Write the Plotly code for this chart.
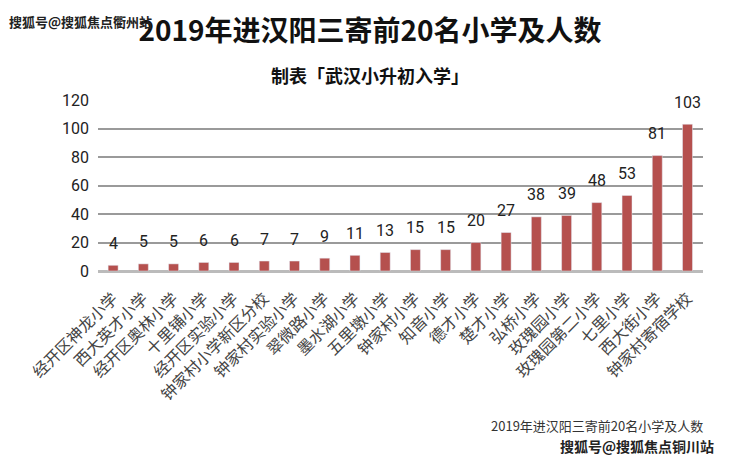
import plotly.graph_objects as go

# data
schools = ['经开区神龙小学', '西大英才小学', '经开区奥林小学', '十里铺小学', '经开区实验小学',
           '钟家村小学新区分校', '钟家村实验小学', '翠微路小学', '墨水湖小学', '五里墩小学',
           '钟家村小学', '知音小学', '德才小学', '楚才小学', '弘桥小学',
           '玫瑰园小学', '玫瑰园第二小学', '七里小学', '西大街小学', '钟家村寄宿学校']
counts = [4, 5, 5, 6, 6, 7, 7, 9, 11, 13, 15, 15, 20, 27, 38, 39, 48, 53, 81, 103]
y_ticks = [0, 20, 40, 60, 80, 100, 120]

cjk = 'Noto Sans CJK SC'

fig = go.Figure()
fig.add_trace(go.Bar(x=schools, y=counts, marker_color='#b5504e', width=0.33))

# value labels sit a little above each bar
for s, c in zip(schools, counts):
    fig.add_annotation(x=s, y=c, text=str(c), showarrow=False, yshift=22,
                       font=dict(family='Roboto', size=16, color='#222'))

# subtitle, footnote and watermarks
fig.add_annotation(x=0.45, y=1.234, xref='paper', yref='paper', text='<b>制表「武汉小升初入学」</b>',
                   showarrow=False, font=dict(family=cjk, size=18, color='#111'))
fig.add_annotation(x=1.003, y=-0.971, xref='paper', yref='paper', xanchor='right',
                   text='2019年进汉阳三寄前20名小学及人数', showarrow=False,
                   font=dict(family=cjk, size=13, color='#333'))
fig.add_annotation(x=1.021, y=-1.094, xref='paper', yref='paper', xanchor='right',
                   text='<b>搜狐号@搜狐焦点铜川站</b>', showarrow=False,
                   font=dict(family=cjk, size=14, color='#222'))
fig.add_annotation(x=-0.15, y=1.525, xref='paper', yref='paper', xanchor='left',
                   text='<b>搜狐号@搜狐焦点衢州站</b>', showarrow=False,
                   font=dict(family=cjk, size=13, color='#222'))

fig.update_layout(
    width=740, height=474,
    margin=dict(l=98, r=37, t=100, b=203, autoexpand=False),
    paper_bgcolor='white', plot_bgcolor='white',
    title=dict(text='<b>2019年进汉阳三寄前20名小学及人数</b>', x=0.5, xanchor='center',
               y=1 - 31 / 474, yanchor='middle', yref='container',
               font=dict(family=cjk, size=28, color='#111')),
    showlegend=False,
    bargap=0.67,
)
fig.update_xaxes(tickangle=-45, tickfont=dict(family=cjk, size=16, color='#444'),
                 showgrid=False, showline=False, ticks='', automargin=False,
                 ticklabelstandoff=14)
fig.update_yaxes(range=[0, 120], tickvals=y_ticks, ticktext=[str(v) for v in y_ticks],
                 tickfont=dict(family='Roboto', size=16, color='#222'),
                 showgrid=True, gridcolor='#9a9a9a', gridwidth=1.5,
                 zeroline=True, zerolinecolor='#bbbbbb', zerolinewidth=2.5,
                 ticks='', ticklabelstandoff=8, automargin=False)

fig.write_html('out.html', config={'displayModeBar': False},
               post_script="document.body.style.margin = '0';")
